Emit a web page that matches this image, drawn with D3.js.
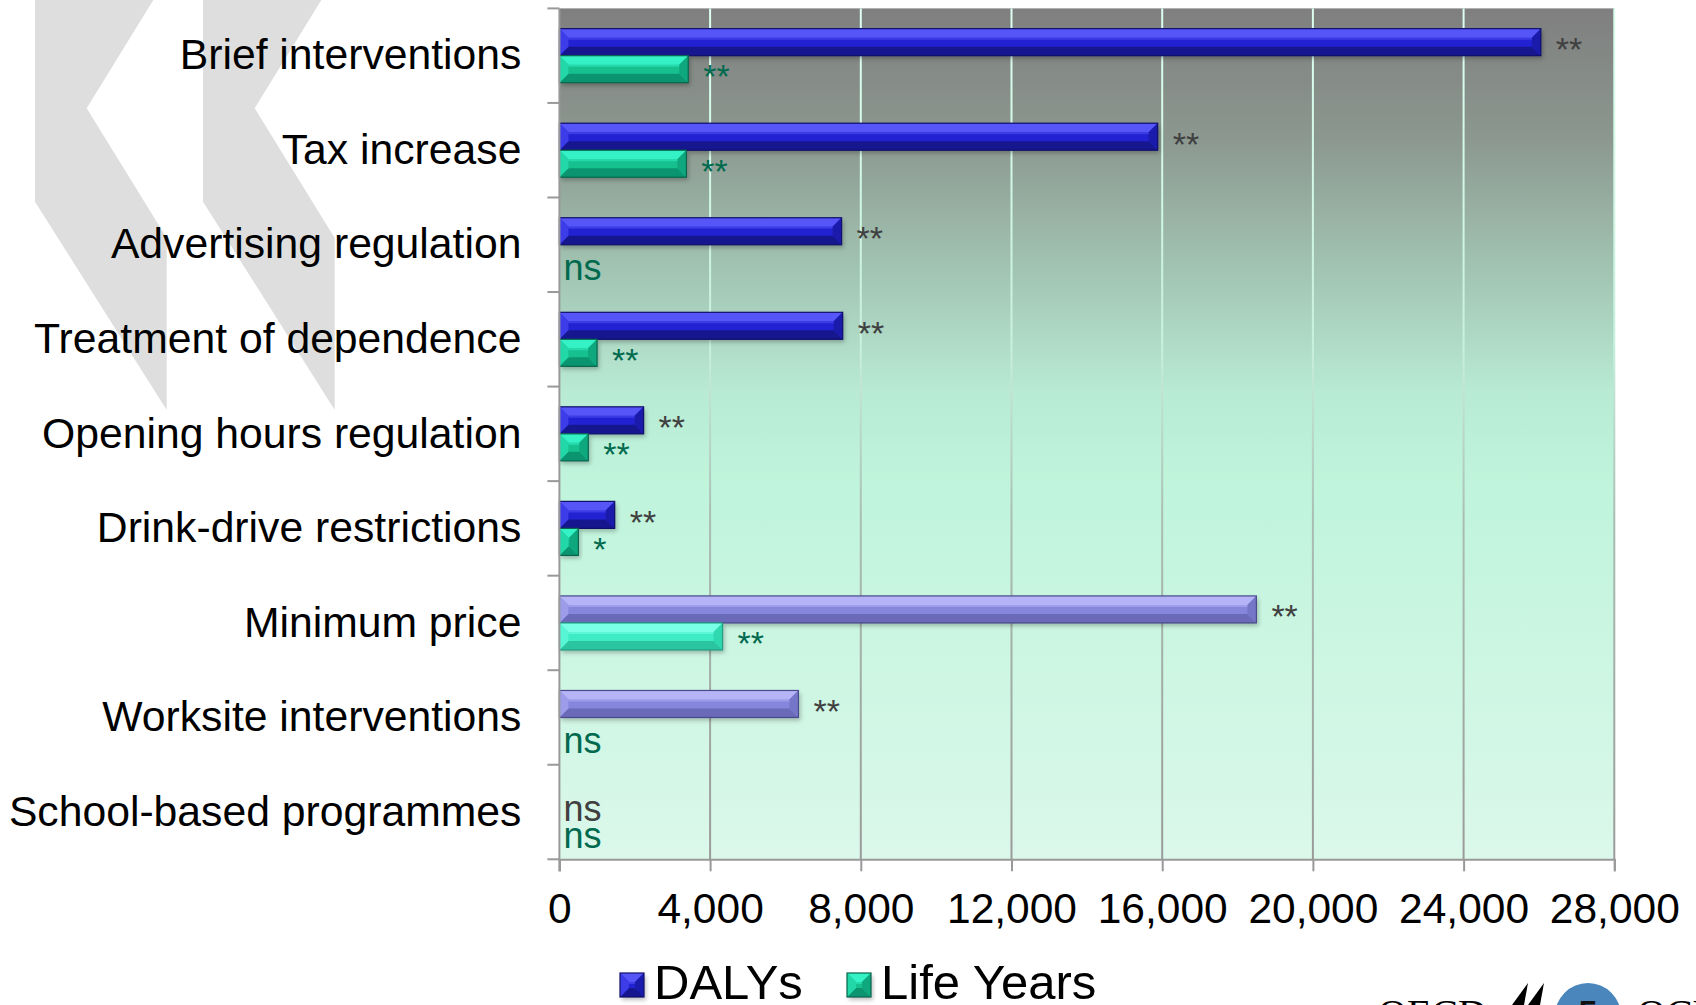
<!DOCTYPE html>
<html>
<head>
<meta charset="utf-8">
<script src="https://cdn.jsdelivr.net/npm/d3@7"></script>
<style>
  body { margin: 0; background: #fff; overflow: hidden; }
  svg { display: block; font-family: "Liberation Sans", Arial, sans-serif; }
</style>
</head>
<body>
<svg id="chart" viewBox="0 0 1696 1005" width="1696" height="1005"></svg>
<script>
// data
const categories = [
  "Brief interventions",
  "Tax increase",
  "Advertising regulation",
  "Treatment of dependence",
  "Opening hours regulation",
  "Drink-drive restrictions",
  "Minimum price",
  "Worksite interventions",
  "School-based programmes"
];
const series = ["DALYs", "Life Years"];
const dalys = [26050, 15880, 7490, 7520, 2235, 1468, 18500, 6345, 0];
const lifeYears = [3420, 3370, 0, 1000, 767, 503, 4330, 0, 0];
const dalySig = ["**", "**", "**", "**", "**", "**", "**", "**", "ns"];
const lifeYearsSig = ["**", "**", "ns", "**", "**", "*", "**", "ns", "ns"];
// categories drawn in the lighter shade
const lighterCats = ["Minimum price", "Worksite interventions"];
const xTicks = [0, 4000, 8000, 12000, 16000, 20000, 24000, 28000];

const svg = d3.select("#chart");
const margins = { left: 559.4, right: 81.7, top: 8.4, bottom: 145.7 };
const W = 1696, H = 1005;

const xScale = d3.scaleLinear().domain([0, 28000]).range([margins.left, W - margins.right]);
const yScale = d3.scaleBand().domain(categories).range([margins.top, H - margins.bottom]).padding(0);
const subScale = d3.scaleBand().domain(series).range([0, yScale.bandwidth()])
  .paddingInner(0).paddingOuter(0.75);

const longData = categories.flatMap((c, i) => [
  { cat: c, group: "DALYs", value: dalys[i], sig: dalySig[i] },
  { cat: c, group: "Life Years", value: lifeYears[i], sig: lifeYearsSig[i] }
]);

// palettes for the bevelled bars
const palettes = {
  "DALYs": { face: "#2424d2", top: "#5656f8", bottom: "#16168f", right: "#1b1bab", left: "#3c3ce8", stroke: "#10106a" },
  "DALYs-light": { face: "#8686dc", top: "#b4b4f7", bottom: "#6a6ab8", right: "#7676c8", left: "#9c9cea", stroke: "#4a4a8c" },
  "Life Years": { face: "#12c08f", top: "#35f2c6", bottom: "#0a9570", right: "#0fa87e", left: "#22d8a8", stroke: "#08654c" },
  "Life Years-light": { face: "#3cecc4", top: "#78ffe6", bottom: "#2ac4a0", right: "#30d8b0", left: "#58f6d4", stroke: "#20a080" }
};
const labelColor = { "DALYs": "#404040", "Life Years": "#006a4e" };

const defs = svg.append("defs");
const bg = defs.append("linearGradient").attr("id", "plotbg")
  .attr("x1", 0).attr("y1", 0).attr("x2", 0).attr("y2", 1);
[["0%", "#7f7f7f"], ["15%", "#8b978f"], ["30%", "#a1c2b1"], ["45%", "#b8ead4"],
 ["55%", "#bff4db"], ["100%", "#dbf8eb"]].forEach(([o, c]) =>
  bg.append("stop").attr("offset", o).attr("stop-color", c));

const gridGrad = defs.append("linearGradient").attr("id", "gridgrad")
  .attr("gradientUnits", "userSpaceOnUse")
  .attr("x1", 0).attr("y1", margins.top).attr("x2", 0).attr("y2", H - margins.bottom);
[["0%", "#dcfff0"], ["40%", "#c8f0de"], ["60%", "#a9bdb3"], ["100%", "#9a9a9a"]].forEach(([o, c]) =>
  gridGrad.append("stop").attr("offset", o).attr("stop-color", c));

defs.append("filter").attr("id", "shadow").attr("x", "-10%").attr("y", "-30%")
  .attr("width", "130%").attr("height", "180%")
  .append("feDropShadow").attr("dx", 2).attr("dy", 3).attr("stdDeviation", 2)
  .attr("flood-color", "#000").attr("flood-opacity", 0.25);

// background chevrons
const chevron = [[35, 0], [153.3, 0], [86.7, 108.3], [166.7, 238], [166.7, 410], [35, 201.7]];
[0, 168].forEach(dx => {
  svg.append("polygon")
    .attr("points", chevron.map(p => `${p[0] + dx},${p[1]}`).join(" "))
    .attr("fill", "#dedede");
});

// plot area
svg.append("rect")
  .attr("x", xScale(0)).attr("y", margins.top)
  .attr("width", xScale(28000) - xScale(0))
  .attr("height", H - margins.bottom - margins.top)
  .attr("fill", "url(#plotbg)");

svg.append("g").attr("class", "grid")
  .selectAll("line").data(xTicks.filter(d => d > 0)).enter()
  .append("line")
  .attr("x1", d => xScale(d)).attr("x2", d => xScale(d))
  .attr("y1", margins.top).attr("y2", H - margins.bottom)
  .attr("stroke", "url(#gridgrad)").attr("stroke-width", 2);

function drawBevelBar(g, x0, x1, y0, h, pal) {
  const y1 = y0 + h;
  const b = Math.min(9, (x1 - x0) / 2, h / 2);
  g.append("rect").attr("x", x0).attr("y", y0).attr("width", x1 - x0).attr("height", h)
    .attr("fill", pal.face).attr("filter", "url(#shadow)");
  const pts = arr => arr.map(p => p.join(",")).join(" ");
  g.append("polygon").attr("points", pts([[x0, y0], [x1, y0], [x1 - b, y0 + b], [x0 + b, y0 + b]])).attr("fill", pal.top);
  g.append("polygon").attr("points", pts([[x0, y1], [x1, y1], [x1 - b, y1 - b], [x0 + b, y1 - b]])).attr("fill", pal.bottom);
  g.append("polygon").attr("points", pts([[x1, y0], [x1, y1], [x1 - b, y1 - b], [x1 - b, y0 + b]])).attr("fill", pal.right);
  g.append("polygon").attr("points", pts([[x0, y0], [x0, y1], [x0 + b, y1 - b], [x0 + b, y0 + b]])).attr("fill", pal.left);
  // thin highlight line under the top bevel
  g.append("line").attr("x1", x0 + b).attr("x2", x1 - b).attr("y1", y0 + b + 1).attr("y2", y0 + b + 1)
    .attr("stroke", pal.top).attr("stroke-opacity", 0.5).attr("stroke-width", 2);
  g.append("rect").attr("x", x0).attr("y", y0).attr("width", x1 - x0).attr("height", h)
    .attr("fill", "none").attr("stroke", pal.stroke).attr("stroke-width", 1.2);
}

const palFor = d => palettes[d.group + (lighterCats.includes(d.cat) ? "-light" : "")];

const barsG = svg.append("g").attr("class", "bars");
longData.filter(d => d.value > 0).forEach(d => {
  drawBevelBar(barsG.append("g"), xScale(0), xScale(d.value),
    yScale(d.cat) + subScale(d.group), subScale.bandwidth(), palFor(d));
});

// significance labels
svg.append("g").attr("class", "sig-labels")
  .selectAll("text").data(longData).enter()
  .append("text")
  .attr("x", d => d.value > 0 ? xScale(d.value) + 15 : xScale(0) + 4)
  .attr("y", d => yScale(d.cat) + subScale(d.group) + subScale.bandwidth() / 2 + (d.sig === "ns" ? 22 : 19))
  .attr("fill", d => labelColor[d.group])
  .style("font-size", d => d.sig === "ns" ? "36px" : "34px")
  .text(d => d.sig);

// y axis: line, boundary ticks, category labels
const yAxisG = svg.append("g").attr("class", "yAxisG");
yAxisG.append("line")
  .attr("x1", xScale(0)).attr("x2", xScale(0))
  .attr("y1", margins.top).attr("y2", H - margins.bottom + 12)
  .attr("stroke", "#999").attr("stroke-width", 2);
yAxisG.selectAll("line.tick").data(categories.map(c => yScale(c)).concat([H - margins.bottom]))
  .enter().append("line").attr("class", "tick")
  .attr("x1", xScale(0) - 12).attr("x2", xScale(0))
  .attr("y1", d => d).attr("y2", d => d)
  .attr("stroke", "#999").attr("stroke-width", 2);

const yLabels = svg.append("g")
  .attr("transform", `translate(${xScale(0)},0)`)
  .call(d3.axisLeft(yScale).tickSize(0).tickPadding(38));
yLabels.select("path").remove();
yLabels.selectAll("text").style("font-size", "42.7px").attr("fill", "#000")
  .style("font-family", "'Liberation Sans', Arial, sans-serif");

// x axis
const xAxisG = svg.append("g")
  .attr("transform", `translate(0,${H - margins.bottom})`)
  .call(d3.axisBottom(xScale).tickValues(xTicks).tickSize(12).tickPadding(22).tickFormat(d3.format(",")));
xAxisG.select("path").attr("stroke", "#999").attr("stroke-width", 2);
xAxisG.selectAll("line").attr("stroke", "#999").attr("stroke-width", 2);
xAxisG.selectAll("text").style("font-size", "42.5px").attr("fill", "#000")
  .style("font-family", "'Liberation Sans', Arial, sans-serif");

// legend
const legendX = [620, 847];
const legendG = svg.append("g").attr("class", "color-legend")
  .selectAll("g").data(series).enter()
  .append("g").attr("transform", (d, i) => `translate(${legendX[i]},973)`);
legendG.each(function (d) {
  drawBevelBar(d3.select(this), 0, 24, 0, 24, palettes[d]);
});
legendG.append("text")
  .attr("x", 34).attr("y", 26)
  .style("font-size", "49px").attr("fill", "#000")
  .text(d => d);

// OECD logo fragment at the bottom right
const logo = svg.append("g").attr("class", "logo");
logo.append("text").attr("x", 1378).attr("y", 1027)
  .style("font-family", "'Liberation Serif', serif").style("font-size", "40px").text("OECD");
logo.append("polygon").attr("points", "1512,1005 1528,983 1524,1005").attr("fill", "#000");
logo.append("polygon").attr("points", "1528,1005 1544,983 1540,1005").attr("fill", "#000");
logo.append("circle").attr("cx", 1588).attr("cy", 1016).attr("r", 33).attr("fill", "#4a86bb");
logo.append("text").attr("x", 1588).attr("y", 1024).attr("text-anchor", "middle")
  .style("font-size", "34px").style("font-weight", "bold").attr("fill", "#111").text("5");
logo.append("text").attr("x", 1637).attr("y", 1027)
  .style("font-family", "'Liberation Serif', serif").style("font-size", "40px").text("OCDE");
</script>
</body>
</html>
